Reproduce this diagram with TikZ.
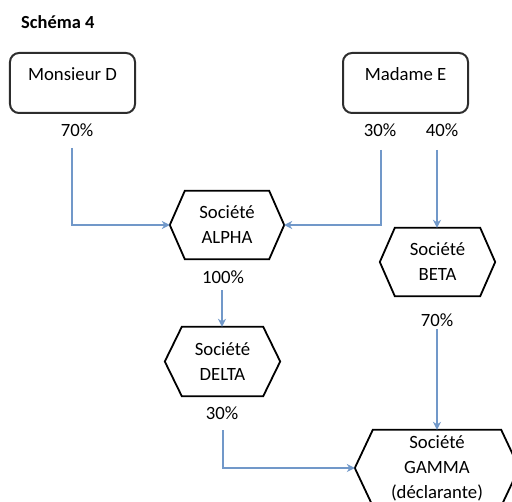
\documentclass[tikz,border=0pt]{standalone}
\usepackage{fontspec}
\setmainfont{Carlito}
\usetikzlibrary{arrows.meta,calc}
\definecolor{linkblue}{RGB}{113,152,201}
\definecolor{boxgray}{RGB}{45,45,45}
\tikzset{
  txt/.style={inner sep=0pt, font=\fontsize{18.8}{25}\selectfont, align=center},
  pct/.style={txt},
  ownerbox/.style={draw=boxgray, line width=2bp, rounded corners=9bp, minimum width=125bp, minimum height=60bp, inner sep=0pt},
  hexcore/.style={inner sep=0pt, font=\fontsize{18.8}{25}\selectfont, align=center},
  hexline/.style={draw=black, line width=1.8bp, line join=miter},
  link/.style={draw=linkblue, line width=2.4bp, -{Stealth[length=8bp,width=8bp]}},
}
\newcommand{\hexaround}[2]{% node name, depth
  \draw[hexline] (#1.west) -- ($(#1.north west)+(#2,0)$) -- ($(#1.north east)-(#2,0)$) -- (#1.east) -- ($(#1.south east)-(#2,0)$) -- ($(#1.south west)+(#2,0)$) -- cycle;}
\begin{document}
\begin{tikzpicture}[x=1bp,y=-1bp]
\useasboundingbox (0,0) rectangle (512,502);
\clip (0,0) rectangle (512,502);
% title
\node[txt, anchor=west, font=\fontsize{18.5}{22}\selectfont\bfseries] (title) at (21,22) {Schéma 4};
% owners
\node[ownerbox] (md) at (72.5,83) {};
\node[txt] (mdt) at (72.5,74) {Monsieur D};
\node[ownerbox] (me) at (405.5,83) {};
\node[txt] (met) at (405.5,74) {Madame E};
% percentages
\node[pct] (p70a) at (77,130) {70\%};
\node[pct] (p30a) at (380,130) {30\%};
\node[pct] (p40) at (442,130) {40\%};
\node[pct] (p100) at (223,277) {100\%};
\node[pct] (p70b) at (437,320) {70\%};
\node[pct] (p30b) at (222,413) {30\%};
% companies
\node[hexcore, minimum width=114bp, minimum height=68bp] (alpha) at (227,225) {Société\\ALPHA};
\hexaround{alpha}{15}
\node[hexcore, minimum width=115bp, minimum height=68bp] (beta) at (437.5,262) {Société\\BETA};
\hexaround{beta}{15}
\node[hexcore, minimum width=115bp, minimum height=69bp] (delta) at (222.5,361.5) {Société\\DELTA};
\hexaround{delta}{17}
\node[hexcore, minimum width=164bp, minimum height=76bp] (gamma) at (437,468) {Société\\GAMMA\\(déclarante)};
\hexaround{gamma}{18}
% connector starts
\coordinate (s1) at (72,148);
\coordinate (s2) at (381,150);
\coordinate (s3) at (437,150);
\coordinate (s4) at (222,290);
\coordinate (s5) at (437,329);
\coordinate (s6) at (223,430);
% connectors
\draw[link] (s1) |- (alpha.west);
\draw[link] (s2) |- (alpha.east);
\draw[link] (s3) -- (s3 |- beta.north);
\draw[link] (s4) -- (s4 |- delta.north);
\draw[link] (s5) -- (s5 |- gamma.north);
\draw[link] (s6) |- (gamma.west);
\end{tikzpicture}
\end{document}
